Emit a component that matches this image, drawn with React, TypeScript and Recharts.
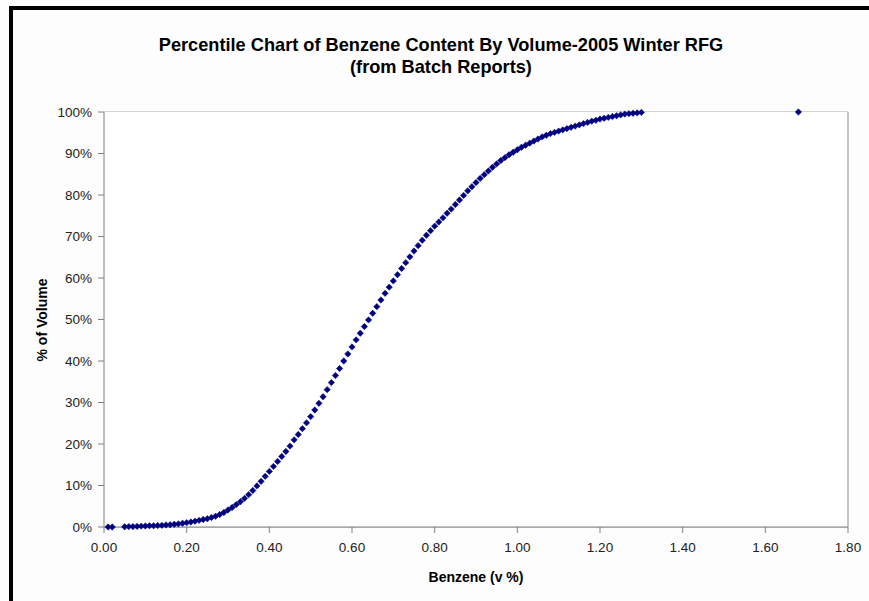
import React from "react";
import { ScatterChart, Scatter, XAxis, YAxis, CartesianGrid, ReferenceLine } from "recharts";

const TITLE_LINES = ["Percentile Chart of Benzene Content By Volume-2005 Winter RFG", "(from Batch Reports)"];
const X_TITLE = "Benzene (v %)";
const Y_TITLE = "% of Volume";
const X_TICKS = [0, 0.2, 0.4, 0.6, 0.8, 1.0, 1.2, 1.4, 1.6, 1.8];
const Y_TICKS = [0, 10, 20, 30, 40, 50, 60, 70, 80, 90, 100];

const benzene = [
  0.01, 0.02, 0.05, 0.06, 0.07, 0.08, 0.09, 0.10, 0.11, 0.12, 0.13, 0.14, 0.15, 0.16, 0.17, 0.18, 0.19,
  0.20, 0.21, 0.22, 0.23, 0.24, 0.25, 0.26, 0.27, 0.28, 0.29, 0.30, 0.31, 0.32, 0.33, 0.34, 0.35, 0.36,
  0.37, 0.38, 0.39, 0.40, 0.41, 0.42, 0.43, 0.44, 0.45, 0.46, 0.47, 0.48, 0.49, 0.50, 0.51, 0.52, 0.53,
  0.54, 0.55, 0.56, 0.57, 0.58, 0.59, 0.60, 0.61, 0.62, 0.63, 0.64, 0.65, 0.66, 0.67, 0.68, 0.69, 0.70,
  0.71, 0.72, 0.73, 0.74, 0.75, 0.76, 0.77, 0.78, 0.79, 0.80, 0.81, 0.82, 0.83, 0.84, 0.85, 0.86, 0.87,
  0.88, 0.89, 0.90, 0.91, 0.92, 0.93, 0.94, 0.95, 0.96, 0.97, 0.98, 0.99, 1.00, 1.01, 1.02, 1.03, 1.04,
  1.05, 1.06, 1.07, 1.08, 1.09, 1.10, 1.11, 1.12, 1.13, 1.14, 1.15, 1.16, 1.17, 1.18, 1.19, 1.20, 1.21,
  1.22, 1.23, 1.24, 1.25, 1.26, 1.27, 1.28, 1.29, 1.30, 1.68,
];

const percentVolume = [
  0, 0, 0.05, 0.1, 0.1, 0.15, 0.2, 0.25, 0.3, 0.3, 0.35, 0.4, 0.5, 0.55, 0.65, 0.75, 0.9,
  1.05, 1.2, 1.4, 1.6, 1.8, 2.0, 2.3, 2.6, 3.0, 3.5, 4.1, 4.7, 5.4, 6.1, 6.9, 7.8, 8.8,
  9.9, 11.0, 12.2, 13.4, 14.6, 15.8, 17.0, 18.2, 19.5, 21.0, 22.3, 23.7, 25.1, 26.6, 28.2, 29.8, 31.4,
  33.1, 34.8, 36.5, 38.2, 40.0, 41.7, 43.4, 45.1, 46.7, 48.3, 49.9, 51.5, 53.1, 54.7, 56.3, 57.8, 59.3,
  60.8, 62.3, 63.7, 65.1, 66.5, 67.8, 69.1, 70.3, 71.4, 72.5, 73.5, 74.5, 75.6, 76.6, 77.7, 78.8, 79.9,
  81.0, 82.0, 83.0, 84.0, 84.9, 85.8, 86.7, 87.5, 88.3, 89.0, 89.7, 90.3, 90.9, 91.5, 92.0, 92.5, 93.0,
  93.5, 94.0, 94.4, 94.8, 95.1, 95.4, 95.7, 96.0, 96.3, 96.6, 96.9, 97.2, 97.5, 97.8, 98.0, 98.3, 98.5,
  98.7, 98.9, 99.1, 99.3, 99.5, 99.6, 99.7, 99.8, 99.9, 100,
];

const data = benzene.map((x, i) => ({ x, y: percentVolume[i] }));

const Diamond = (props: any) => {
  const { cx, cy } = props;
  if (cx == null || cy == null) return null;
  const r = 3.2;
  return (
    <polygon
      points={`${cx},${cy - r} ${cx + r},${cy} ${cx},${cy + r} ${cx - r},${cy}`}
      fill="#000080"
      stroke="#000080"
      strokeWidth={0.5}
    />
  );
};

const FONT = "'Liberation Sans', Arial, sans-serif";

export default function App() {
  return (
    <div
      style={{
        position: "absolute",
        left: 0,
        top: 0,
        width: 869,
        height: 601,
        background: "#fdfdfd",
        overflow: "hidden",
        fontFamily: FONT,
      }}
    >
      <div style={{ position: "absolute", left: 9, top: 6, width: 860, height: 4, background: "#000" }} />
      <div style={{ position: "absolute", left: 9, top: 6, width: 4, height: 595, background: "#000" }} />
      <div
        style={{
          position: "absolute",
          left: 0,
          top: 34,
          width: 882,
          textAlign: "center",
          fontWeight: "bold",
          fontSize: 18.2,
          lineHeight: "22px",
          color: "#000",
        }}
      >
        <div>{TITLE_LINES[0]}</div>
        <div>{TITLE_LINES[1]}</div>
      </div>
      <div
        style={{
          position: "absolute",
          left: 376,
          top: 568,
          width: 200,
          textAlign: "center",
          fontWeight: "bold",
          fontSize: 14,
          lineHeight: "18px",
          color: "#000",
        }}
      >
        {X_TITLE}
      </div>
      <div
        style={{
          position: "absolute",
          left: 42 - 100,
          top: 320 - 9,
          width: 200,
          textAlign: "center",
          fontWeight: "bold",
          fontSize: 14,
          lineHeight: "18px",
          color: "#000",
          transform: "rotate(-90deg)",
        }}
      >
        {Y_TITLE}
      </div>
      <div style={{ position: "absolute", left: 0, top: 0 }}>
        <ScatterChart
          width={869}
          height={601}
          margin={{ top: 112, right: 21, bottom: 34, left: 0 }}
        >
          <rect x={104} y={112} width={744} height={415} fill="#ffffff" />
          <CartesianGrid vertical={false} stroke="#a8a8a8" strokeWidth={1} />
          <XAxis
            type="number"
            dataKey="x"
            domain={[0, 1.8]}
            ticks={X_TICKS}
            tickFormatter={(v: number) => v.toFixed(2)}
            height={40}
            tickSize={6}
            tickMargin={9}
            stroke="#808080"
            tick={{ fill: "#222", fontSize: 13.5, fontFamily: FONT }}
          />
          <YAxis
            type="number"
            dataKey="y"
            domain={[0, 100]}
            ticks={Y_TICKS}
            tickFormatter={(v: number) => `${v}%`}
            width={104}
            tickSize={6}
            tickMargin={6}
            stroke="#808080"
            tick={{ fill: "#222", fontSize: 13.5, fontFamily: FONT }}
          />
          <ReferenceLine x={1.8} stroke="#b0b0b0" strokeWidth={1.5} />
          <Scatter data={data} shape={<Diamond />} isAnimationActive={false} />
        </ScatterChart>
      </div>
    </div>
  );
}
